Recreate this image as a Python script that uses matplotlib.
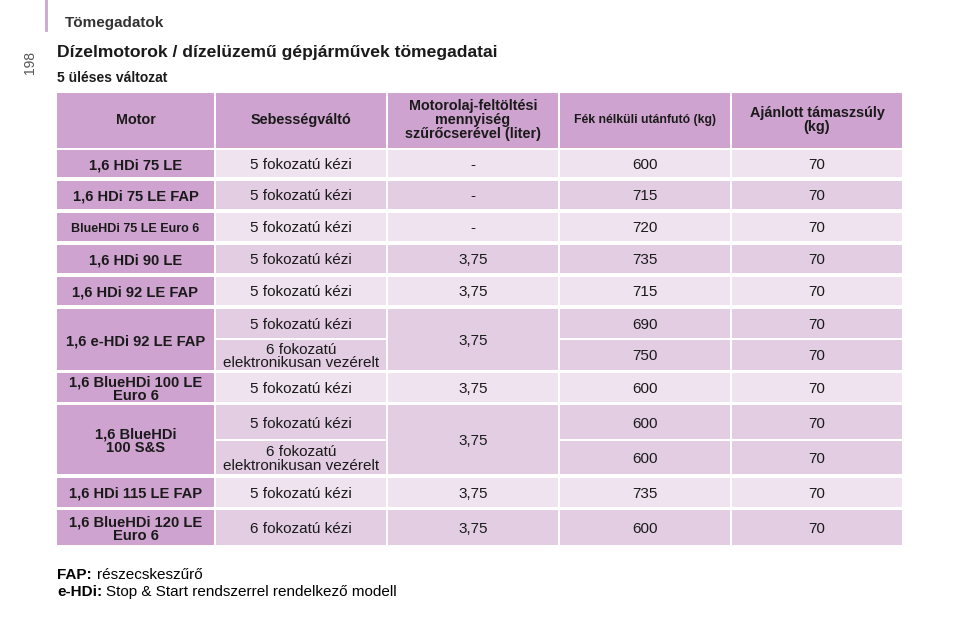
import matplotlib
matplotlib.use("Agg")
import matplotlib.pyplot as plt
from matplotlib.patches import Rectangle

headers = ["Motor", "Sebességváltó", "Motorolaj-feltöltési\nmennyiség\nszűrőcserével (liter)",
           "Fék nélküli utánfutó (kg)", "Ajánlott támaszsúly\n(kg)"]
motors = ["1,6 HDi 75 LE", "1,6 HDi 75 LE FAP", "BlueHDi 75 LE Euro 6", "1,6 HDi 90 LE",
          "1,6 HDi 92 LE FAP", "1,6 e-HDi 92 LE FAP", "1,6 BlueHDi 100 LE\nEuro 6",
          "1,6 BlueHDi\n100 S&S", "1,6 HDi 115 LE FAP", "1,6 BlueHDi 120 LE\nEuro 6"]
gearboxes = [["5 fokozatú kézi"], ["5 fokozatú kézi"], ["5 fokozatú kézi"], ["5 fokozatú kézi"],
             ["5 fokozatú kézi"], ["5 fokozatú kézi", "6 fokozatú\nelektronikusan vezérelt"],
             ["5 fokozatú kézi"], ["5 fokozatú kézi", "6 fokozatú\nelektronikusan vezérelt"],
             ["5 fokozatú kézi"], ["6 fokozatú kézi"]]
oil = ["-", "-", "-", "3,75", "3,75", "3,75", "3,75", "3,75", "3,75", "3,75"]
trailer = [[600], [715], [720], [735], [715], [690, 750], [600], [600, 600], [735], [600]]
nose = [[70], [70], [70], [70], [70], [70, 70], [70], [70, 70], [70], [70]]

# layout (pixels)
col_edges = [57, 216, 388, 560, 732, 904]
row_edges = [[150, 179], [181, 211], [213, 243], [245, 275], [277, 307], [309, 340, 372],
             [373, 404], [405, 441, 476], [478, 509], [510, 547]]
HEAD = "#cfa3cf"
LIGHT = "#f0e3f0"
DARK = "#e3cde3"
GAP = 2
FONT = "Liberation Sans"

fig = plt.figure(figsize=(9.6, 6.4), dpi=100)
ax = fig.add_axes([0, 0, 1, 1])
ax.set_xlim(0, 960)
ax.set_ylim(640, 0)
ax.axis("off")

def cell(x0, x1, y0, y1, color, text, bold=False, size=10.8, dy=0.0):
    ax.add_patch(Rectangle((x0, y0), x1 - x0 - GAP, y1 - y0 - GAP, color=color, lw=0))
    ax.text((x0 + x1 - GAP) / 2, (y0 + y1 - GAP) / 2 + 1.5 + dy, text, ha="center", va="center",
            fontsize=size, fontweight="bold" if bold else "normal", color="#1a1a1a",
            family=FONT, linespacing=0.98)

# header
for i, h in enumerate(headers):
    sz = 8.8 if i == 3 else 10.4
    cell(col_edges[i], col_edges[i + 1], 93, 150, HEAD, h, bold=True, size=sz, dy=-2)

for r in range(len(motors)):
    re = row_edges[r]
    top, bot = re[0], re[-1]
    bg = LIGHT if r % 2 == 0 else DARK
    sz = 9.0 if r == 2 else 10.6
    cell(col_edges[0], col_edges[1], top, bot, HEAD, motors[r], bold=True, size=sz)
    cell(col_edges[2], col_edges[3], top, bot, bg, oil[r], size=11)
    for k in range(len(re) - 1):
        cell(col_edges[1], col_edges[2], re[k], re[k + 1], bg, gearboxes[r][k], size=11)
        cell(col_edges[3], col_edges[4], re[k], re[k + 1], bg, str(trailer[r][k]), size=11)
        cell(col_edges[4], col_edges[5], re[k], re[k + 1], bg, str(nose[r][k]), size=11)

# page texts
ax.plot([46, 46], [0, 30], color="#c9a6d6", lw=2)
ax.text(65, 23, "Tömegadatok", fontsize=11, fontweight="bold", color="#333333",
        family=FONT, va="center")
ax.text(30, 62, "198", fontsize=10, color="#555555", rotation=90, va="center", ha="center",
        family=FONT)
ax.text(57, 52, "Dízelmotorok / dízelüzemű gépjárművek tömegadatai", fontsize=12.6,
        fontweight="bold", color="#1a1a1a", family=FONT, va="center")
ax.text(57, 78, "5 üléses változat", fontsize=10, fontweight="bold", color="#1a1a1a",
        family=FONT, va="center")
ax.text(57, 575, "FAP:", fontsize=11, fontweight="bold", family=FONT, va="center")
ax.text(97, 575, "részecskeszűrő", fontsize=11, family=FONT, va="center")
ax.text(57, 592, "e-HDi:", fontsize=11, fontweight="bold", family=FONT, va="center")
ax.text(106, 592, "Stop & Start rendszerrel rendelkező modell", fontsize=11,
        family=FONT, va="center")

fig.savefig("out.png", dpi=100)
